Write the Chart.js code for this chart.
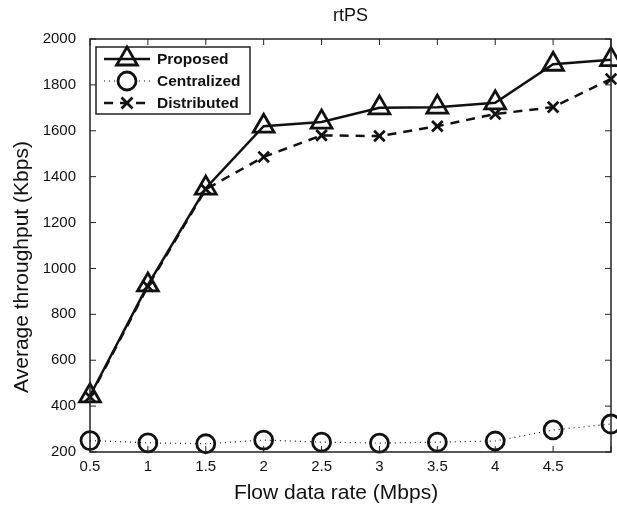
<!DOCTYPE html>
<html>
<head>
<meta charset="utf-8">
<script src="https://cdn.jsdelivr.net/npm/chart.js@4"></script>
<style>
  body { margin: 0; background: #fff; }
  #wrap { width: 617px; height: 507px; }
</style>
</head>
<body>
<div id="wrap"><canvas id="line-chart" width="617" height="507"></canvas></div>
<script>
// data
const rates = [0.5, 1, 1.5, 2, 2.5, 3, 3.5, 4, 4.5, 5];
const proposed = [445, 928, 1350, 1620, 1638, 1700, 1703, 1722, 1890, 1910];
const centralized = [250, 240, 236, 252, 243, 239, 243, 248, 296, 322];
const distributed = [440, 922, 1345, 1486, 1580, 1577, 1620, 1673, 1703, 1826];
const yTicks = [200, 400, 600, 800, 1000, 1200, 1400, 1600, 1800, 2000];
const xTicks = [0.5, 1, 1.5, 2, 2.5, 3, 3.5, 4, 4.5, 5];
const xTitle = 'Flow data rate (Mbps)';
const yTitle = 'Average throughput (Kbps)';

function toPoints(vals) {
    return rates.map(function (r, i) { return { x: r, y: vals[i] }; });
}

const font = "'Liberation Sans', Arial, sans-serif";

// box around plot with inward tick marks, plus the axis titles
const frame = {
    id: 'frame',
    afterDraw(chart) {
        const ctx = chart.ctx, a = chart.chartArea;
        const xs = chart.scales.x, ys = chart.scales.y;
        ctx.save();
        ctx.strokeStyle = '#222';
        ctx.lineWidth = 1.5;
        ctx.strokeRect(a.left, a.top, a.right - a.left, a.bottom - a.top);
        ctx.lineWidth = 1;
        yTicks.forEach(function (v) {
            const p = ys.getPixelForValue(v);
            ctx.beginPath();
            ctx.moveTo(a.left, p); ctx.lineTo(a.left + 6, p);
            ctx.moveTo(a.right, p); ctx.lineTo(a.right - 6, p);
            ctx.stroke();
        });
        xTicks.forEach(function (v) {
            const p = xs.getPixelForValue(v);
            ctx.beginPath();
            ctx.moveTo(p, a.bottom); ctx.lineTo(p, a.bottom - 6);
            ctx.moveTo(p, a.top); ctx.lineTo(p, a.top + 6);
            ctx.stroke();
        });
        // axis titles (placed like the original, a bit off-centre)
        ctx.fillStyle = '#111';
        ctx.font = '21px ' + font;
        ctx.textAlign = 'center';
        ctx.textBaseline = 'middle';
        ctx.fillText(xTitle, 336, 493);
        ctx.translate(22, 267);
        ctx.rotate(-Math.PI / 2);
        ctx.fillText(yTitle, 0, 0);
        ctx.restore();
    }
};

function marker(ctx, style, x, y) {
    ctx.beginPath();
    if (style === 'triangle') {
        const r = 12;
        ctx.moveTo(x, y - r);
        ctx.lineTo(x + r * 0.866, y + r / 2);
        ctx.lineTo(x - r * 0.866, y + r / 2);
        ctx.closePath();
    } else if (style === 'circle') {
        ctx.arc(x, y, 9, 0, Math.PI * 2);
    } else {
        const r = 5.5;
        ctx.moveTo(x - r, y - r); ctx.lineTo(x + r, y + r);
        ctx.moveTo(x + r, y - r); ctx.lineTo(x - r, y + r);
    }
    ctx.stroke();
}

// legend box drawn inside the plot, top left
const insideLegend = {
    id: 'insideLegend',
    afterDraw(chart) {
        const ctx = chart.ctx, a = chart.chartArea;
        const bx = a.left + 6, by = a.top + 8, bw = 154, bh = 67;
        ctx.save();
        ctx.fillStyle = '#fff';
        ctx.fillRect(bx, by, bw, bh);
        ctx.strokeStyle = '#222';
        ctx.lineWidth = 1.5;
        ctx.strokeRect(bx, by, bw, bh);
        chart.data.datasets.forEach(function (ds, i) {
            const y = by + 12 + i * 22;
            ctx.strokeStyle = '#111';
            ctx.lineWidth = ds.borderWidth;
            ctx.setLineDash(ds.borderDash || []);
            ctx.beginPath();
            ctx.moveTo(bx + 8, y); ctx.lineTo(bx + 54, y);
            ctx.stroke();
            ctx.setLineDash([]);
            ctx.lineWidth = ds.pointBorderWidth;
            ctx.fillStyle = '#fff';
            if (ds.pointStyle === 'circle') {
                ctx.beginPath(); ctx.arc(bx + 31, y, 9, 0, Math.PI * 2); ctx.fill();
            }
            marker(ctx, ds.pointStyle, bx + 31, y);
            ctx.fillStyle = '#111';
            ctx.font = 'bold 15.5px ' + font;
            ctx.textBaseline = 'middle';
            ctx.fillText(ds.label, bx + 61, y + 1);
        });
        ctx.restore();
    }
};

new Chart(document.getElementById("line-chart"), {
    type: 'line',
    data: {
        datasets: [{
            label: "Proposed",
            data: toPoints(proposed),
            borderColor: "#111",
            borderWidth: 2.5,
            pointStyle: 'triangle',
            pointRadius: 12,
            pointBorderWidth: 2.8,
            pointBackgroundColor: "rgba(0,0,0,0)",
            pointBorderColor: "#111",
            clip: false
        }, {
            label: "Centralized",
            data: toPoints(centralized),
            borderColor: "#111",
            borderWidth: 1.2,
            borderDash: [1, 4],
            pointStyle: 'circle',
            pointRadius: 9,
            pointBorderWidth: 2.8,
            pointBackgroundColor: "rgba(0,0,0,0)",
            pointBorderColor: "#111",
            clip: false
        }, {
            label: "Distributed",
            data: toPoints(distributed),
            borderColor: "#111",
            borderWidth: 2.5,
            borderDash: [9, 7],
            pointStyle: 'crossRot',
            pointRadius: 7.5,
            pointBorderWidth: 2.8,
            pointBorderColor: "#111",
            clip: false
        }]
    },
    options: {
        responsive: false,
        animation: false,
        layout: { autoPadding: false, padding: { right: 5, left: 0, bottom: 0 } },
        plugins: {
            legend: { display: false },
            tooltip: { enabled: false },
            title: {
                display: true,
                fullSize: false,
                text: 'rtPS',
                color: '#111',
                font: { family: font, size: 18, weight: 'normal' },
                padding: { top: 5, bottom: 12.4 }
            }
        },
        scales: {
            x: {
                type: 'linear',
                min: 0.5,
                max: 5,
                afterBuildTicks: function (s) { s.ticks = xTicks.map(function (v) { return { value: v }; }); },
                afterFit: function (s) { s.height = 55; },
                grid: { display: false, drawTicks: false },
                border: { display: false },
                ticks: {
                    color: '#111',
                    font: { family: font, size: 15 },
                    padding: 6,
                    maxRotation: 0,
                    callback: function (v) { return v === 5 ? '' : String(v); }
                },
                title: { display: false }
            },
            y: {
                min: 200,
                max: 2000,
                afterBuildTicks: function (s) { s.ticks = yTicks.map(function (v) { return { value: v }; }); },
                afterFit: function (s) { s.width = 90; },
                grid: { display: false, drawTicks: false },
                border: { display: false },
                ticks: {
                    color: '#111',
                    font: { family: font, size: 15 },
                    padding: 14,
                    callback: function (v) { return String(v); }
                },
                title: { display: false }
            }
        }
    },
    plugins: [frame, insideLegend]
});
</script>
</body>
</html>
